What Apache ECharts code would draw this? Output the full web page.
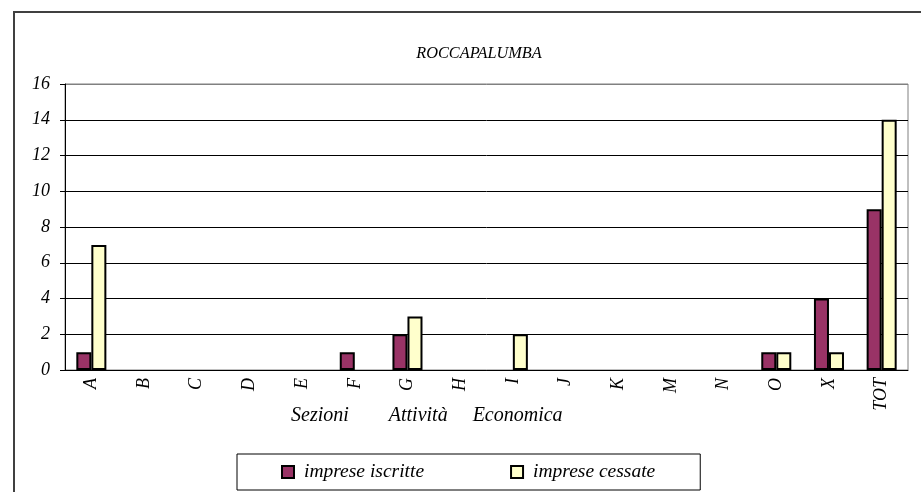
<!DOCTYPE html>
<html><head><meta charset="utf-8">
<script src="https://cdn.jsdelivr.net/npm/echarts@6/dist/echarts.min.js"></script>
<style>html,body{margin:0;padding:0;background:#fff}#c{width:921px;height:492px}</style>
</head><body><div id="c"></div>
<script>
const categories = ['A','B','C','D','E','F','G','H','I','J','K','M','N','O','X','TOT'];
const iscritte = [1,0,0,0,0,1,2,0,0,0,0,0,0,1,4,9];
const cessate  = [7,0,0,0,0,0,3,0,2,0,0,0,0,1,1,14];
const seriesNames = ['imprese iscritte','imprese cessate'];
const chartTitle = 'ROCCAPALUMBA';
const axisTitle = 'Sezioni        Attività     Economica';

const F = 'Liberation Serif, Times New Roman, serif';
const chart = echarts.init(document.getElementById('c'));
const toNull = a => a.map(v => v === 0 ? null : v);
chart.setOption({
  animation: false,
  backgroundColor: '#fff',
  title: [{
    text: chartTitle, left: 474, top: 41, textAlign: 'center',
    textStyle: {fontFamily: F, fontStyle: 'italic', fontWeight: 'normal', fontSize: 16.3, color: '#000'}
  },{
    text: axisTitle, left: 286, top: 401,
    textStyle: {fontFamily: F, fontStyle: 'italic', fontWeight: 'normal', fontSize: 20, color: '#000'}
  }],
  graphic: [{
    type: 'rect', shape: {x: 14, y: 12, width: 940, height: 520},
    style: {fill: 'none', stroke: '#404040', lineWidth: 2}, silent: true, z: -1
  }],
  legend: {
    data: seriesNames, left: 237, top: 454, icon: 'rect',
    padding: [8, 45, 8, 44], itemGap: 86, itemWidth: 12, itemHeight: 12,
    borderColor: '#000', borderWidth: 1,
    textStyle: {fontFamily: F, fontStyle: 'italic', fontSize: 19.5, color: '#000', padding: [0, 0, 0, 5]}
  },
  grid: {left: 65, right: 13, top: 84, bottom: 122, show: true, borderColor: '#808080', borderWidth: 1},
  xAxis: {
    type: 'category', data: categories,
    axisLine: {lineStyle: {color: '#000', width: 1}},
    axisTick: {length: 5, lineStyle: {color: '#000'}},
    axisLabel: {rotate: 90, fontFamily: F, fontStyle: 'italic', fontSize: 18, color: '#000', margin: 8}
  },
  yAxis: {
    type: 'value', min: 0, max: 16, interval: 2,
    axisLine: {show: true, lineStyle: {color: '#000'}},
    axisTick: {show: true, length: 5, lineStyle: {color: '#000'}},
    axisLabel: {fontFamily: F, fontStyle: 'italic', fontSize: 18, color: '#000', margin: 15},
    splitLine: {lineStyle: {color: ['#000','#000','#000','#000','#000','#000','#000','#000','#808080'], width: 1}}
  },
  series: [{
    name: seriesNames[0], type: 'bar', data: toNull(iscritte),
    barGap: '0%', barCategoryGap: '43%',
    itemStyle: {color: '#993366', borderColor: '#000', borderWidth: 2}
  },{
    name: seriesNames[1], type: 'bar', data: toNull(cessate),
    barGap: '0%', barCategoryGap: '43%',
    itemStyle: {color: '#FFFFCC', borderColor: '#000', borderWidth: 2}
  }]
});
</script></body></html>
